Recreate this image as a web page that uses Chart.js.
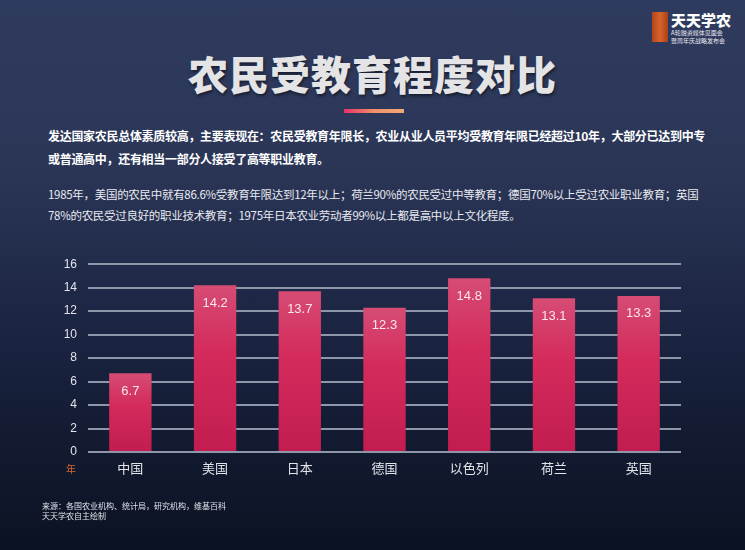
<!DOCTYPE html>
<html>
<head>
<meta charset="utf-8">
<script src="https://cdn.jsdelivr.net/npm/chart.js@4"></script>
<style>
  html, body { margin: 0; padding: 0; }
  body {
    width: 745px; height: 550px; overflow: hidden; position: relative;
    background: linear-gradient(to bottom, #2f3b5e 0%, #2b3657 30%, #1a2340 62%, #0b1222 100%);
    font-family: "Noto Sans CJK SC", "Noto Sans", sans-serif;
  }
  .title {
    position: absolute; left: 0; width: 745px; top: 44px; text-align: center;
    font-size: 40px; font-weight: 900; color: #e4e4e6; letter-spacing: 1px;
    text-shadow: 1px 2px 3px rgba(0,0,0,0.5);
  }
  .accent {
    position: absolute; left: 344px; top: 109px; width: 60px; height: 4px;
    background: linear-gradient(to right, #e8306c, #f0906a, #f2a878);
  }
  .p1 {
    position: absolute; left: 48px; top: 124px; font-size: 12px; font-weight: bold;
    color: #ffffff; line-height: 23px; white-space: nowrap; letter-spacing: -0.3px;
  }
  .p2 {
    position: absolute; left: 48px; top: 184px; font-size: 11.5px;
    color: #e8eaf0; line-height: 21px; white-space: nowrap; letter-spacing: -0.3px;
  }
  .unit { position: absolute; left: 66px; top: 461px; font-size: 10px; color: #d8692a; }
  .foot {
    position: absolute; left: 42px; top: 501px; font-size: 8px; line-height: 10px;
    color: #dfe2ea; white-space: nowrap;
  }
  .logo-bar { position: absolute; left: 652px; top: 12px; width: 16px; height: 30px;
    background: linear-gradient(to right, #b2441c, #d8642a, #a8401a); }
  .logo-t { position: absolute; left: 671px; top: 9px; font-size: 15px; font-weight: 900;
    color: #ffffff; letter-spacing: 0px; }
  .logo-s { position: absolute; left: 671px; font-size: 6px; color: #e8e8ee; white-space: nowrap; }
  #wrap { position: absolute; left: 40px; top: 246px; width: 650px; height: 239px; }
</style>
</head>
<body>
<div class="logo-bar"></div>
<div class="logo-t">天天学农</div>
<div class="logo-s" style="top:28px">A轮融资媒体见面会</div>
<div class="logo-s" style="top:36px">暨周年庆战略发布会</div>

<div class="title">农民受教育程度对比</div>
<div class="accent"></div>
<div class="p1">发达国家农民总体素质较高，主要表现在：农民受教育年限长，农业从业人员平均受教育年限已经超过10年，大部分已达到中专<br>或普通高中，还有相当一部分人接受了高等职业教育。</div>
<div class="p2">1985年，美国的农民中就有86.6%受教育年限达到12年以上；荷兰90%的农民受过中等教育；德国70%以上受过农业职业教育；英国<br>78%的农民受过良好的职业技术教育；1975年日本农业劳动者99%以上都是高中以上文化程度。</div>

<div id="wrap"><canvas id="myChart"></canvas></div>
<div class="unit">年</div>
<div class="foot">来源：各国农业机构、统计局，研究机构，维基百科<br>天天学农自主绘制</div>

<script>
var countries = ["中国", "美国", "日本", "德国", "以色列", "荷兰", "英国"];
var years = [6.7, 14.2, 13.7, 12.3, 14.8, 13.1, 13.3];
var yTicks = [0, 2, 4, 6, 8, 10, 12, 14, 16];

// value labels inside the top of each bar
var barLabels = {
    id: 'barLabels',
    afterDatasetsDraw: function(chart) {
        var ctx = chart.ctx;
        var meta = chart.getDatasetMeta(0);
        ctx.save();
        ctx.font = '13px "Liberation Sans", Arial, sans-serif';
        ctx.fillStyle = '#f8e6ec';
        ctx.textAlign = 'center';
        ctx.textBaseline = 'middle';
        meta.data.forEach(function(bar, i) {
            ctx.fillText(String(years[i]), bar.x, bar.y + 18);
        });
        ctx.restore();
    }
};

var ctx = document.getElementById('myChart').getContext('2d');
var chart = new Chart(ctx, {
    type: 'bar',
    data: {
        labels: countries,
        datasets: [{
            data: years,
            backgroundColor: function(context) {
                var c = context.chart;
                if (!c.chartArea) return '#cc2a5a';
                var y = c.scales.y;
                var top = y.getPixelForValue(context.raw);
                var bottom = y.getPixelForValue(0);
                var g = c.ctx.createLinearGradient(0, top, 0, bottom);
                g.addColorStop(0, '#d64c74');
                g.addColorStop(0.4, '#d42b5c');
                g.addColorStop(1, '#c21c50');
                return g;
            },
            borderWidth: 0,
            barPercentage: 0.5,
            categoryPercentage: 1.0
        }]
    },
    options: {
        responsive: true,
        maintainAspectRatio: false,
        animation: false,
        layout: { padding: { top: 0, right: 9, bottom: 0, left: 0 } },
        plugins: { legend: { display: false }, tooltip: { enabled: false } },
        scales: {
            x: {
                grid: { display: false, drawTicks: false },
                border: { display: false },
                ticks: { color: '#e2e4ea', font: { size: 13, family: '"Noto Sans CJK SC"' }, padding: 8 },
                afterFit: function(axis) { axis.height = 33; }
            },
            y: {
                min: 0, max: 16,
                afterBuildTicks: function(axis) { axis.ticks = yTicks.map(function(v) { return { value: v }; }); },
                grid: { color: '#8e96aa', lineWidth: 2, drawTicks: false },
                border: { display: false },
                ticks: { color: '#e2e4ea', font: { size: 12, family: '"Liberation Sans"' }, padding: 11 },
                afterFit: function(axis) { axis.width = 48; }
            }
        }
    },
    plugins: [barLabels]
});
</script>
</body>
</html>
